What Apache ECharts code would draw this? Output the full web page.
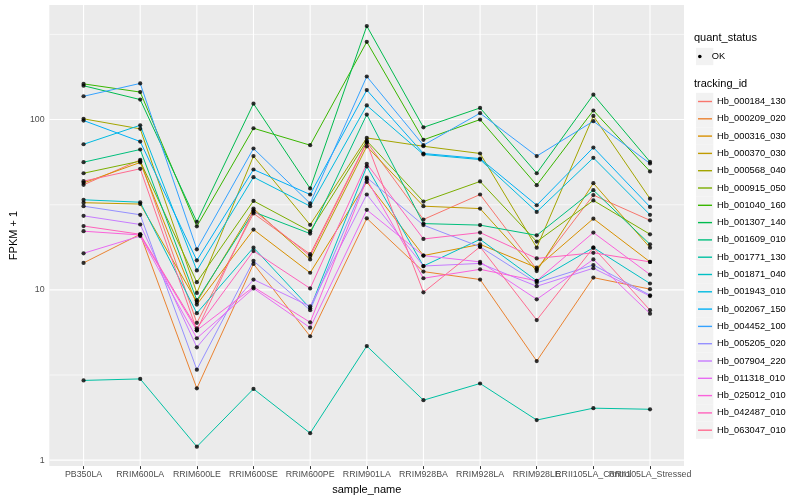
<!DOCTYPE html>
<html>
<head>
<meta charset="utf-8">
<script src="https://cdn.jsdelivr.net/npm/echarts@6/dist/echarts.min.js"></script>
<style>
html,body{margin:0;padding:0;background:#fff;}
#c{width:800px;height:500px;}
</style>
</head>
<body>
<div id="c"></div>
<script>
// ---- data ----
const categories = ['PB350LA','RRIM600LA','RRIM600LE','RRIM600SE','RRIM600PE','RRIM901LA','RRIM928BA','RRIM928LA','RRIM928LE','RRII105LA_Control','RRII105LA_Stressed'];
const trackingIds = ['Hb_000184_130','Hb_000209_020','Hb_000316_030','Hb_000370_030','Hb_000568_040','Hb_000915_050','Hb_001040_160','Hb_001307_140','Hb_001609_010','Hb_001771_130','Hb_001871_040','Hb_001943_010','Hb_002067_150','Hb_004452_100','Hb_005205_020','Hb_007904_220','Hb_011318_010','Hb_025012_010','Hb_042487_010','Hb_063047_010'];
const hb000184 = [41.4, 58, 6.4, 28.1, 16.2, 73.8, 25.9, 36.3, 13.2, 36, 25.6];
const hb000209 = [14.4, 21.2, 2.64, 14.2, 5.34, 26.3, 12.8, 11.5, 3.82, 11.8, 10.1];
const hb000316 = [42.5, 56, 8.2, 22.6, 12.6, 43, 15.9, 18.5, 13.5, 26.2, 14.6];
const hb000370 = [32.5, 31.9, 8.5, 30, 15.1, 69.6, 31, 30, 12.9, 42.3, 17.7];
const hb000568 = [101, 88.2, 9.6, 61, 24.1, 78, 69.7, 63.2, 17.7, 105, 34.3];
const hb000915 = [48.4, 57, 11.1, 33.3, 22.1, 75, 33, 43.3, 19.2, 33.5, 21.2];
const hb001040 = [162, 145, 23.6, 88.9, 70.7, 286, 76, 100, 41.2, 113, 49.6];
const hb001307 = [158, 131, 25.1, 124, 39.4, 354, 90, 117, 48.4, 140, 56.5];
const hb001609 = [56.2, 66.7, 8.7, 28.7, 21.4, 107, 24.5, 24, 20.9, 38.5, 18.5];
const hb001771 = [2.94, 3.0, 1.2, 2.62, 1.44, 4.68, 2.25, 2.82, 1.72, 2.02, 1.99];
const hb001871 = [33.8, 32.7, 7.3, 17.7, 7.8, 53, 13.8, 19.8, 11.3, 17.7, 10.9];
const hb001943 = [71.6, 92.6, 13.0, 45.9, 31, 121, 62.4, 58.2, 28.7, 59.6, 27.6];
const hb002067 = [98.7, 74.3, 14.9, 50.9, 36.3, 149, 63.2, 59, 31.4, 68.5, 30.7];
const hb004452 = [137, 163, 17.3, 67.6, 32.2, 179, 70.7, 109, 61, 97.8, 55.2];
const hb005205 = [31, 27.6, 3.4, 14.8, 7.6, 45.6, 24, 17.9, 11.0, 14.0, 9.3];
const hb007904 = [27.2, 24.2, 4.6, 11.5, 8.0, 36.3, 13.8, 14.3, 10.5, 13.4, 9.2];
const hb011318 = [16.4, 20.7, 5.2, 10.2, 6.0, 29.5, 15.9, 14.6, 8.8, 15.1, 7.25];
const hb025012 = [22.1, 21, 5.79, 10.4, 6.45, 44.5, 11.7, 13.2, 11.3, 21.7, 12.3];
const hb042487 = [23.7, 21.2, 5.95, 16.9, 10.2, 55, 19.9, 21.7, 15.3, 16.5, 14.6];
const hb063047 = [43.5, 51.4, 5.79, 29.3, 15.8, 73, 9.67, 17.9, 6.65, 17.7, 7.6];
const seriesValues = [hb000184,hb000209,hb000316,hb000370,hb000568,hb000915,hb001040,hb001307,hb001609,hb001771,hb001871,hb001943,hb002067,hb004452,hb005205,hb007904,hb011318,hb025012,hb042487,hb063047];
const yTicks = [1, 10, 100];
const yMinorTicks = [Math.sqrt(10), Math.sqrt(1000), Math.sqrt(100000)];
const quantStatus = 'OK';

// ---- styles ----
const palette = ['#F8766D','#EA8331','#D89000','#C09B00','#A3A500','#7CAE00','#39B600','#00BB4E','#00BF7D','#00C1A3','#00BFC4','#00BAE0','#00B0F6','#35A2FF','#9590FF','#C77CFF','#E76BF3','#FA62DB','#FF62BC','#FF6C91'];
const FONT = 'Liberation Sans, Arial, sans-serif';
const catIdx = categories.map((c, i) => i);
const lastIdx = catIdx.length - 1;
const evenIdx = catIdx.filter(i => i % 2 === 0);
const oddIdx = catIdx.filter(i => i % 2 === 1);
const Y_MIN = 0.923, Y_MAX = 470.6, X_MIN = -0.6, X_MAX = lastIdx + 0.6;
const PANEL = { left: 40, right: 116, top: 5, bottom: 32 };

const lineSeries = trackingIds.map((id, i) => ({
  name: id,
  type: 'line',
  data: seriesValues[i].map((v, j) => [j, v]),
  showSymbol: false,
  symbol: 'none',
  lineStyle: { width: 1, color: palette[i] },
  itemStyle: { color: palette[i] },
  emphasis: { disabled: true },
  silent: true,
  z: 8
}));

const pointData = [];
seriesValues.forEach(arr => arr.forEach((v, j) => pointData.push([j, v])));

const pointSeries = {
  name: quantStatus,
  type: 'scatter',
  data: pointData,
  symbol: 'circle',
  symbolSize: 4.2,
  itemStyle: { color: '#000' },
  silent: true,
  z: 9
};

// panel background + grid lines: one custom series, every position from the axes via api.coord
// item: [x, y, kind]  kind 3 = panel, 0 = vertical at x, 1 = major horizontal at y, 2 = minor horizontal at y
const gridItems = [[X_MIN, Y_MIN, 3]]
  .concat(catIdx.map(i => [i, 1, 0]))
  .concat(yTicks.map(v => [0, v, 1]))
  .concat(yMinorTicks.map(v => [0, v, 2]));

const gridSeries = {
  name: quantStatus,
  type: 'custom',
  silent: true,
  z: 7,
  clip: false,
  encode: { x: 0, y: 1 },
  dimensions: ['x', 'y', 'kind'],
  data: gridItems,
  renderItem: function (params, api) {
    const x = api.value(0);
    const y = api.value(1);
    const kind = api.value(2);
    if (kind === 3) {
      const a = api.coord([X_MIN, Y_MAX]);
      const b = api.coord([X_MAX, Y_MIN]);
      return { type: 'rect', z2: 0, shape: { x: a[0], y: a[1], width: b[0] - a[0], height: b[1] - a[1] }, style: { fill: '#EBEBEB' } };
    }
    let p1, p2;
    if (kind === 0) {
      p1 = api.coord([x, Y_MIN]);
      p2 = api.coord([x, Y_MAX]);
    } else {
      p1 = api.coord([X_MIN, y]);
      p2 = api.coord([X_MAX, y]);
    }
    return {
      type: 'line',
      z2: kind === 2 ? 1 : 2,
      shape: { x1: p1[0], y1: p1[1], x2: p2[0], y2: p2[1] },
      style: { stroke: '#FFFFFF', lineWidth: kind === 2 ? 0.6 : 1.1, fill: null }
    };
  }
};

// legend key backgrounds
const keyPitch = 17.3;
const keyTop0 = 101.5;
const graphics = [{
  type: 'rect', shape: { x: 696, y: 56.5 - keyPitch / 2, width: 17.3, height: keyPitch }, style: { fill: '#F2F2F2' }, z: -1, silent: true
}];
trackingIds.forEach((id, k) => {
  graphics.push({ type: 'rect', shape: { x: 696, y: keyTop0 + k * keyPitch - keyPitch / 2, width: 17.3, height: keyPitch }, style: { fill: '#F2F2F2' }, z: -1, silent: true });
});

const xAxisBase = {
  type: 'value', gridIndex: 0, position: 'bottom',
  min: X_MIN, max: X_MAX,
  axisLine: { show: false },
  splitLine: { show: false }
};
const xLabelStyle = { fontSize: 8.8, color: '#4D4D4D', margin: 4, fontFamily: FONT, hideOverlap: false, showMinLabel: true, showMaxLabel: true };
function xAxisWith(vals, extra) {
  return Object.assign({}, xAxisBase, {
    axisTick: { show: true, customValues: vals, length: 3, lineStyle: { color: '#333333', width: 1 } },
    axisLabel: Object.assign({ customValues: vals, formatter: v => categories[Math.round(v)] }, xLabelStyle)
  }, extra || {});
}

const chart = echarts.init(document.getElementById('c'), null, { renderer: 'canvas' });
chart.setOption({
  animation: false,
  backgroundColor: '#ffffff',
  textStyle: { fontFamily: FONT },
  grid: Object.assign({ show: true, backgroundColor: '#EBEBEB', borderWidth: 0, z: 0 }, PANEL),
  title: [
    { text: 'quant_status', left: 694, top: 32, textStyle: { fontSize: 11, fontWeight: 'normal', color: '#000', fontFamily: FONT }, padding: 0 },
    { text: 'tracking_id', left: 694, top: 78, textStyle: { fontSize: 11, fontWeight: 'normal', color: '#000', fontFamily: FONT }, padding: 0 }
  ],
  legend: [
    {
      data: trackingIds,
      orient: 'vertical',
      left: 698, top: keyTop0 - keyPitch / 2,
      padding: 0,
      itemGap: 0,
      itemWidth: 14, itemHeight: 1.4,
      icon: 'rect',
      selectedMode: false,
      textStyle: { fontSize: 9.3, color: '#000', fontFamily: FONT, lineHeight: keyPitch, height: keyPitch }
    },
    {
      data: [{ name: quantStatus, icon: 'circle', itemStyle: { color: '#000' } }],
      orient: 'vertical',
      left: 698, top: 56.5 - keyPitch / 2,
      padding: 0,
      itemGap: 0,
      itemWidth: 14, itemHeight: 3.6,
      icon: 'circle',
      selectedMode: false,
      textStyle: { fontSize: 9.3, color: '#000', fontFamily: FONT, lineHeight: keyPitch, height: keyPitch }
    }
  ],
  graphic: { elements: graphics },
  xAxis: [
    xAxisWith(evenIdx, {
      name: 'sample_name', nameLocation: 'middle', nameGap: 14,
      nameTextStyle: { fontSize: 11, color: '#000', fontFamily: FONT }
    }),
    xAxisWith(oddIdx, { offset: 0 })
  ],
  yAxis: {
    type: 'log', logBase: 10,
    min: Y_MIN, max: Y_MAX,
    name: 'FPKM + 1', nameLocation: 'middle', nameGap: 23, nameRotate: 90,
    nameTextStyle: { fontSize: 11, color: '#000', fontFamily: FONT },
    axisLine: { show: false },
    splitLine: { show: false },
    minorSplitLine: { show: false },
    axisTick: { show: true, customValues: yTicks, length: 3, lineStyle: { color: '#333333', width: 1 } },
    axisLabel: { customValues: yTicks, formatter: v => String(v), fontSize: 8.8, color: '#4D4D4D', margin: 5, fontFamily: FONT }
  },
  series: [gridSeries].concat(lineSeries).concat([pointSeries])
});
</script>
</body>
</html>
